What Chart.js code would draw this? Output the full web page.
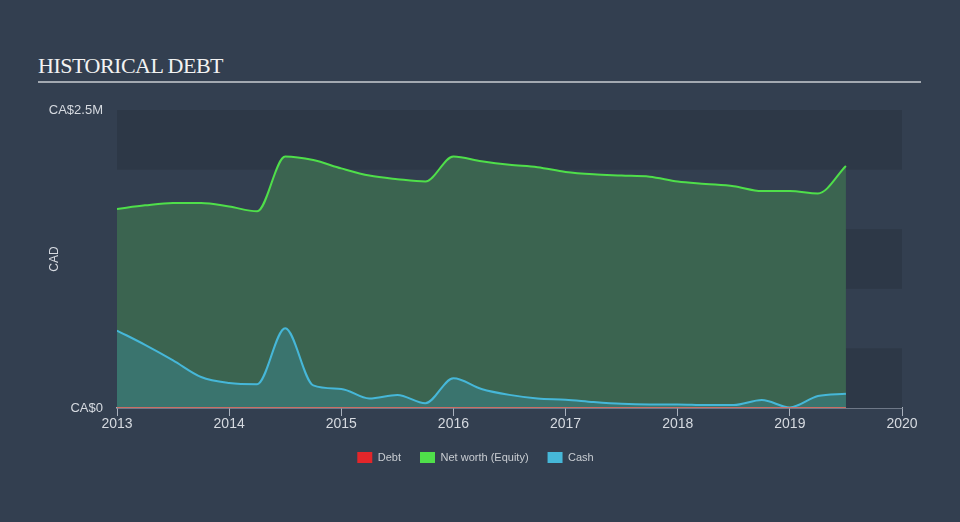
<!DOCTYPE html>
<html>
<head>
<meta charset="utf-8">
<script src="https://cdn.jsdelivr.net/npm/chart.js@4.4.1/dist/chart.umd.min.js"></script>
<style>
  html, body { margin: 0; padding: 0; background: #333f50; }
  #wrap { position: relative; width: 960px; height: 522px; overflow: hidden; }
  #title {
    position: absolute; left: 38px; top: 55px;
    font: 22px/22px "Liberation Serif", "Times New Roman", serif;
    letter-spacing: -0.5px; color: #f2f2f2;
  }
  #rule { position: absolute; left: 38px; top: 81px; width: 883px; height: 2px; background: #a3a9b1; }
  canvas { position: absolute; left: 0; top: 0; }
</style>
</head>
<body>
<div id="wrap">
  <div id="title">HISTORICAL DEBT</div>
  <div id="rule"></div>
  <canvas id="debt-chart" width="960" height="522"></canvas>
</div>
<script>
// quarterly dates (decimal years) and values in CA$ millions
const dates = [2013.0, 2013.25, 2013.5, 2013.75, 2014.0, 2014.25, 2014.5, 2014.75,
  2015.0, 2015.25, 2015.5, 2015.75, 2016.0, 2016.25, 2016.5, 2016.75,
  2017.0, 2017.25, 2017.5, 2017.75, 2018.0, 2018.25, 2018.5, 2018.75,
  2019.0, 2019.25, 2019.5]
const debt = [0, 0, 0, 0, 0, 0, 0, 0, 0, 0, 0, 0, 0, 0, 0, 0, 0, 0, 0, 0, 0, 0, 0, 0, 0, 0, 0]
const equity = [1.67, 1.70, 1.72, 1.72, 1.69, 1.65, 2.11, 2.08,
  2.01, 1.95, 1.92, 1.90, 2.11, 2.07, 2.04, 2.02,
  1.98, 1.96, 1.95, 1.94, 1.90, 1.88, 1.86, 1.82,
  1.82, 1.80, 2.03]
const cash = [0.65, 0.53, 0.40, 0.26, 0.21, 0.20, 0.67, 0.19,
  0.16, 0.08, 0.11, 0.04, 0.25, 0.16, 0.11, 0.08,
  0.07, 0.05, 0.035, 0.03, 0.03, 0.025, 0.025, 0.067,
  0.005, 0.10, 0.12]
const yearTicks = [2013, 2014, 2015, 2016, 2017, 2018, 2019, 2020]
const valueTicks = [0, 2.5]
const seriesNames = ['Debt', 'Net worth (Equity)', 'Cash']
const seriesColors = ['#e3262a', '#4fdf4a', '#46b7d8']

const toPoints = vals => vals.map((v, i) => ({ x: dates[i], y: v }))
const fontFamily = 'Arial, "Liberation Sans", sans-serif'

// darker horizontal bands behind the plot
const bands = {
  id: 'bands',
  beforeDatasetsDraw(chart) {
    const { ctx, chartArea, scales } = chart
    ctx.save()
    ctx.fillStyle = '#2d3847'
    ;[[0, 0.5], [1, 1.5], [2, 2.5]].forEach(([a, b]) => {
      const y1 = scales.y.getPixelForValue(b)
      const y2 = scales.y.getPixelForValue(a)
      ctx.fillRect(chartArea.left, y1, chartArea.right - chartArea.left, y2 - y1)
    })
    ctx.restore()
  }
}

const ctx = document.getElementById('debt-chart')
const chart = new Chart(ctx, {
  type: 'line',
  data: {
    datasets: [{
      label: seriesNames[0],
      data: toPoints(debt),
      borderColor: 'rgba(220,110,100,0.9)',
      borderWidth: 2,
      fill: false,
      order: 0
    }, {
      label: seriesNames[1],
      data: toPoints(equity),
      borderColor: seriesColors[1],
      backgroundColor: '#3b6450',
      borderWidth: 2,
      fill: 'origin',
      order: 2
    }, {
      label: seriesNames[2],
      data: toPoints(cash),
      borderColor: seriesColors[2],
      backgroundColor: '#3a746e',
      borderWidth: 2,
      fill: 'origin',
      order: 1
    }]
  },
  options: {
    responsive: false,
    animation: false,
    devicePixelRatio: 1,
    layout: { padding: { top: 110, right: 58, bottom: 49, left: 49 } },
    elements: {
      point: { radius: 0 },
      line: { cubicInterpolationMode: 'monotone' }
    },
    scales: {
      x: {
        type: 'linear',
        min: 2013,
        max: 2020,
        afterBuildTicks: scale => { scale.ticks = yearTicks.map(v => ({ value: v })) },
        afterFit: scale => { scale.height = 25 },
        ticks: {
          color: '#d6dae0',
          font: { family: fontFamily, size: 14 },
          padding: 0,
          maxRotation: 0,
          callback: v => String(v)
        },
        grid: { drawOnChartArea: false, drawTicks: true, tickLength: 8, color: '#a9b1bd', lineWidth: 1 },
        border: { color: '#a9b1bd', width: 1.5 }
      },
      y: {
        type: 'linear',
        min: 0,
        max: 2.5,
        afterBuildTicks: scale => { scale.ticks = valueTicks.map(v => ({ value: v })) },
        afterFit: scale => { scale.width = 68 },
        ticks: {
          color: '#d6dae0',
          font: { family: fontFamily, size: 13 },
          padding: 14,
          callback: v => v === 0 ? 'CA$0' : 'CA$' + v + 'M'
        },
        grid: { display: false, drawTicks: false },
        border: { display: false },
        title: {
          display: true,
          text: 'CAD',
          color: '#d6dae0',
          font: { family: fontFamily, size: 12 },
          padding: { top: -2, bottom: 0 }
        }
      }
    },
    plugins: {
      tooltip: { enabled: false },
      legend: {
        position: 'bottom',
        labels: {
          color: '#c9cdd2',
          font: { family: fontFamily, size: 11 },
          boxWidth: 15,
          boxHeight: 11,
          padding: 19,
          generateLabels: () => seriesNames.map((name, i) => ({
            text: name,
            fillStyle: seriesColors[i],
            strokeStyle: seriesColors[i],
            lineWidth: 0,
            fontColor: '#c9cdd2',
            datasetIndex: i,
            hidden: false
          }))
        }
      }
    }
  },
  plugins: [bands]
})
</script>
</body>
</html>
